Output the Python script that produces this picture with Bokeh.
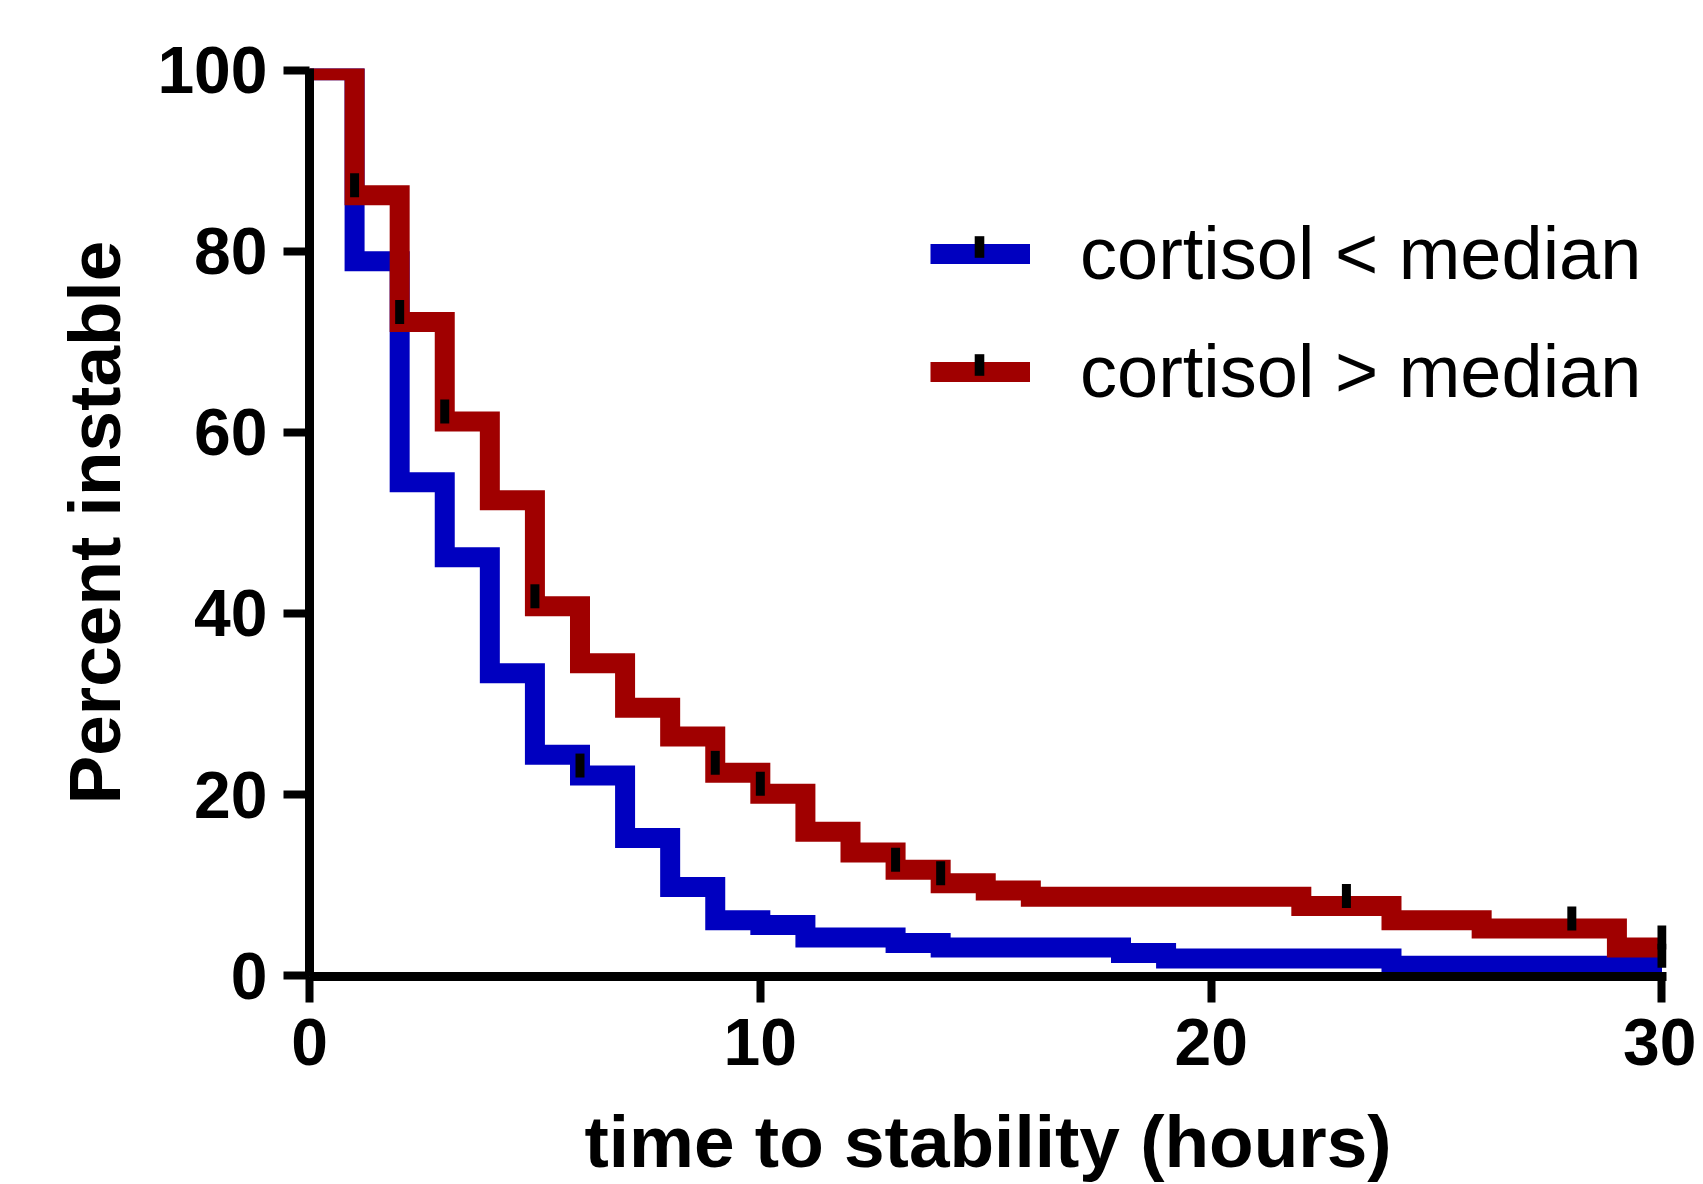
from bokeh.plotting import figure
from bokeh.models import Range1d, FixedTicker, Legend, LegendItem
from bokeh.embed import file_html
from bokeh.resources import INLINE

# ---- data ----
low_label = "cortisol < median"
high_label = "cortisol > median"

low_t = [0, 1, 2, 3, 4, 5, 6, 7, 8, 9, 10, 11, 13, 14, 18, 19, 24, 30]
low_v = [100, 78.9, 54.5, 46.2, 33.4, 24.4, 22.1, 15.2, 9.8, 6.1, 5.6, 4.2, 3.6, 3.1, 2.5, 1.9, 1.1, 1.1]

high_t = [0, 1, 2, 3, 4, 5, 6, 7, 8, 9, 10, 11, 12, 13, 14, 15, 16, 22, 24, 26, 29, 30]
high_v = [100, 86.2, 72.2, 61.2, 52.5, 40.8, 34.5, 29.6, 26.4, 22.4, 20.1, 15.9, 13.6, 11.7, 10.2, 9.4, 8.7, 7.7, 6.1, 5.2, 3.1, 3.1]

low_censored = [6, 30]
high_censored = [1, 2, 3, 5, 9, 10, 13, 14, 23, 28, 30]

x_ticks = [0, 10, 20, 30]
y_ticks = [0, 20, 40, 60, 80, 100]
x_title = "time to stability (hours)"
y_title = "Percent instable"

BLUE = "#0000C0"
RED = "#A00000"
FONT = "Liberation Sans"


def level_at(ts, vs, t):
    lvl = vs[0]
    for ti, vi in zip(ts, vs):
        if ti <= t:
            lvl = vi
    return lvl


MARK_LIFT = 1.1  # censor tick sits slightly above the step level

p = figure(
    frame_width=1357, frame_height=908,
    x_range=Range1d(0, 30.1), y_range=Range1d(-0.1, 100.2),
    output_backend="svg", toolbar_location=None,
    min_border_left=309, min_border_right=30,
    min_border_top=68, min_border_bottom=190,
)
p.grid.visible = False
p.outline_line_color = None
p.background_fill_color = "white"

rb = p.step(low_t, low_v, mode="after", line_color=BLUE, line_width=20, line_join="miter")
rr = p.step(high_t, high_v, mode="after", line_color=RED, line_width=20, line_join="miter")

cb = p.rect(x=low_censored,
            y=[level_at(low_t, low_v, t) + MARK_LIFT for t in low_censored],
            width=9, height=24, width_units="screen", height_units="screen",
            fill_color="black", line_color=None)
cr = p.rect(x=high_censored,
            y=[level_at(high_t, high_v, t) + MARK_LIFT for t in high_censored],
            width=9, height=24, width_units="screen", height_units="screen",
            fill_color="black", line_color=None)

# axes
p.xaxis.ticker = FixedTicker(ticks=x_ticks)
p.yaxis.ticker = FixedTicker(ticks=y_ticks)
for ax in (p.xaxis, p.yaxis):
    ax.axis_line_width = 9
    ax.axis_line_color = "black"
    ax.major_tick_line_width = 8
    ax.major_tick_line_color = "black"
    ax.major_tick_out = 26
    ax.major_tick_in = 0
    ax.minor_tick_out = 0
    ax.minor_tick_in = 0
    ax.major_label_text_font = FONT
    ax.major_label_text_font_style = "bold"
    ax.major_label_text_font_size = "66px"
    ax.major_label_text_color = "black"
    ax.axis_label_text_font = FONT
    ax.axis_label_text_font_style = "bold"
    ax.axis_label_text_font_size = "73px"
    ax.axis_label_text_color = "black"
p.xaxis.axis_label = x_title
p.yaxis.axis_label = y_title
p.xaxis.major_label_standoff = 16
p.xaxis.axis_label_standoff = 33
p.yaxis.major_label_standoff = 16
p.yaxis.axis_label_standoff = 19

legend_common = dict(
    padding=0, margin=0, spacing=32, label_height=86,
    border_line_color=None, background_fill_alpha=0,
    label_text_font=FONT, label_text_font_size="74px", label_text_color="black",
)
leg = Legend(
    items=[LegendItem(label=low_label, renderers=[rb]),
           LegendItem(label=high_label, renderers=[rr])],
    location=(621, 562), glyph_width=100, glyph_height=21, label_standoff=50,
    **legend_common,
)
leg_marks = Legend(
    items=[LegendItem(label=" ", renderers=[cb]),
           LegendItem(label=" ", renderers=[cr])],
    location=(664, 569), glyph_width=12, glyph_height=27, label_standoff=0,
    **legend_common,
)
p.add_layout(leg)
p.add_layout(leg_marks)

open("out.html", "w").write(file_html(p, INLINE))
